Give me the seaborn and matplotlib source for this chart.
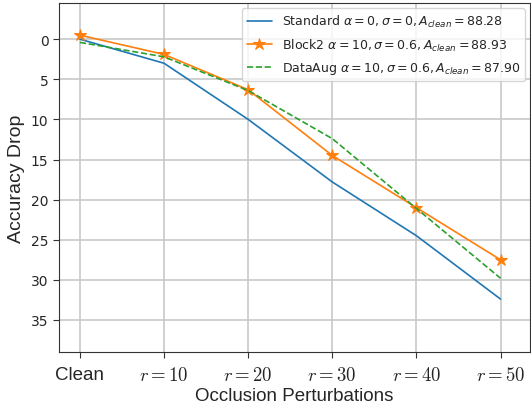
import pandas as pd
import matplotlib
matplotlib.use("Agg")
import matplotlib.pyplot as plt
import seaborn as sns

# ----------------------------
# Data
# ----------------------------
categories = ["Clean", "$r=10$", "$r=20$", "$r=30$", "$r=40$", "$r=50$"]
standard = [0.0, 3.0, 10.0, 17.8, 24.5, 32.4]
block2 = [-0.5, 1.9, 6.3, 14.5, 21.0, 27.5]
data_aug = [0.4, 2.2, 6.4, 12.4, 21.1, 29.8]

labels = [
    r"Standard $\alpha=0,\sigma=0,A_{clean}=88.28$",
    r"Block2 $\alpha=10,\sigma=0.6,A_{clean}=88.93$",
    r"DataAug $\alpha=10,\sigma=0.6,A_{clean}=87.90$",
]

df = pd.DataFrame({
    "pos": list(range(len(categories))) * 3,
    "drop": standard + block2 + data_aug,
    "model": [labels[0]] * 6 + [labels[1]] * 6 + [labels[2]] * 6,
})

sns.set_style("ticks")

fig = plt.figure(figsize=(5.31, 4.10), dpi=100)
ax = fig.add_axes([0.111, 0.139, 0.887, 0.851])

colors = ["#1f77b4", "#ff7f0e", "#2ca02c"]
styles = ["-", "-", "--"]
markers = [None, "*", None]

for lab, c, ls, mk in zip(labels, colors, styles, markers):
    sub = df[df["model"] == lab]
    sns.lineplot(data=sub, x="pos", y="drop", ax=ax, color=c, linestyle=ls,
                 marker=mk, markersize=9, markeredgecolor=c, linewidth=1.2,
                 label=lab)

ax.set_xlim(-0.25, 5.35)
ax.set_ylim(39, -4.5)
ax.set_yticks([0, 5, 10, 15, 20, 25, 30, 35])
ax.set_xticks(range(len(categories)))
ax.set_xticklabels(categories, fontsize=13.5, family="Liberation Sans")
for t in ax.get_xticklabels():
    t.set_math_fontfamily("cm")
ax.tick_params(axis="y", labelsize=10, length=4, width=0.8, color="#333333")
ax.tick_params(axis="x", length=4, width=0.8, color="#333333", pad=6)
ax.grid(True, color="#c8c8c8", linewidth=1.2)
ax.set_axisbelow(True)
for s in ax.spines.values():
    s.set_color("#333333")

ax.set_xlabel("Occlusion Perturbations", fontsize=13.5, family="Liberation Sans", labelpad=2)
ax.set_ylabel("Accuracy Drop", fontsize=14, family="Liberation Sans", labelpad=4)

ax.legend(loc="upper right", fontsize=9, frameon=True, handlelength=2,
          borderaxespad=0.4, labelspacing=0.6)

fig.savefig("out.png", dpi=100)
